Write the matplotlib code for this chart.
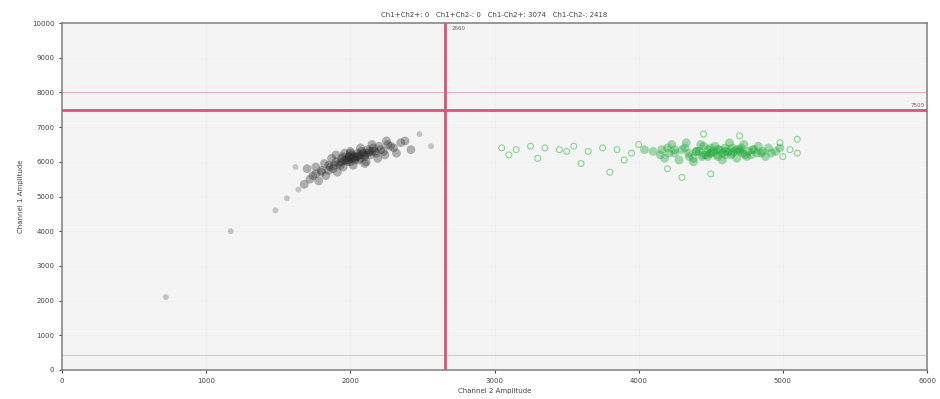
import matplotlib
matplotlib.use('Agg')
import matplotlib.pyplot as plt

# droplet amplitudes (x = channel 2, y = channel 1)
# double negative cluster (grey)
neg_ch2 = [1720, 1760, 1800, 1830, 1850, 1880, 1900, 1920, 1940, 1950, 1970, 1990,
           2000, 2010, 2030, 2050, 2060, 2080, 2100, 2120, 2140, 2160, 2180, 2200,
           2230, 2260, 2300, 2350, 1780, 1820, 1870, 1910, 1960, 2020, 2070, 2110,
           2150, 2190, 2240, 1700, 1900, 2000, 2100, 2250, 1980, 2040, 1930, 2090,
           1850, 2150, 2010, 1990, 2060, 1960, 2120, 1950, 2000, 2050, 2100, 2030,
           1980, 2070, 2000, 1940, 2080, 2130, 1890, 2020, 2170, 1860, 2210, 1800,
           2280, 1740, 2320, 2380, 2420, 1680, 1760]
neg_ch1 = [5500, 5650, 5750, 5600, 5900, 5800, 6000, 5950, 6100, 5850, 6050, 6150,
           6000, 6200, 6100, 6250, 6050, 6300, 6150, 6350, 6200, 6400, 6250, 6450,
           6300, 6500, 6400, 6550, 5450, 5950, 6100, 5700, 6250, 5900, 6400, 6000,
           6500, 6100, 6200, 5800, 6200, 6300, 5950, 6600, 6050, 6150, 5900, 6250,
           5750, 6300, 6100, 6150, 6200, 6050, 6250, 6150, 6100, 6150, 6200, 6050,
           6000, 6100, 6250, 6000, 6200, 6300, 5900, 6150, 6300, 5850, 6350, 5700,
           6450, 5600, 6250, 6600, 6350, 5350, 5850]
neg_out_ch2 = [1640, 1560, 1480, 1170, 720, 2480, 2560, 1620]
neg_out_ch1 = [5200, 4950, 4600, 4000, 2100, 6800, 6450, 5850]

# channel 2 positive cluster (green)
pos_ch2 = [4100, 4150, 4200, 4250, 4300, 4350, 4400, 4450, 4500, 4550, 4600, 4650,
           4700, 4750, 4800, 4850, 4900, 4950, 4180, 4280, 4380, 4480, 4580, 4680,
           4780, 4880, 4230, 4330, 4430, 4530, 4630, 4730, 4830, 4400, 4500, 4600,
           4700, 4550, 4650, 4450, 4350, 4420, 4480, 4520, 4580, 4620, 4680, 4720,
           4760, 4820, 4250, 4320, 4470, 4560, 4640, 4710, 4790, 4860, 4920, 4380,
           4500, 4600, 4540, 4660, 4440, 4740, 4160, 4210, 4980, 4040]
pos_ch1 = [6300, 6200, 6400, 6250, 6350, 6150, 6300, 6450, 6250, 6350, 6200, 6400,
           6300, 6150, 6350, 6250, 6400, 6300, 6100, 6050, 6000, 6150, 6050, 6100,
           6200, 6150, 6500, 6550, 6500, 6450, 6550, 6500, 6450, 6300, 6250, 6300,
           6350, 6150, 6250, 6200, 6250, 6300, 6350, 6300, 6250, 6300, 6350, 6250,
           6300, 6250, 6350, 6400, 6200, 6350, 6200, 6400, 6350, 6300, 6250, 6100,
           6400, 6400, 6200, 6300, 6150, 6200, 6350, 6250, 6400, 6350]
pos_out_ch2 = [3050, 3150, 3250, 3350, 3450, 3550, 3650, 3750, 3850, 3950, 3300, 3600,
               3900, 4000, 5000, 5050, 5100, 4980, 3800, 4200, 4500, 4300, 5100, 3100,
               3500, 4450, 4700]
pos_out_ch1 = [6400, 6350, 6450, 6400, 6350, 6450, 6300, 6400, 6350, 6250, 6100, 5950,
               6050, 6500, 6150, 6350, 6250, 6550, 5700, 5800, 5650, 5550, 6650, 6200,
               6300, 6800, 6750]

ch1_threshold = 7500
ch2_threshold = 2660

title = 'Ch1+Ch2+: 0   Ch1+Ch2-: 0   Ch1-Ch2+: 3074   Ch1-Ch2-: 2418'

fig = plt.figure(figsize=(9.4, 3.99), dpi=100)
ax = fig.add_axes([62 / 940, 29 / 399, 865 / 940, 347 / 399])
ax.set_facecolor('#f4f4f4')

ax.scatter(neg_out_ch2, neg_out_ch1, s=18, color='#555555', alpha=0.3, edgecolors='none', zorder=3)
ax.scatter(neg_ch2, neg_ch1, s=40, color='#2a2a2a', alpha=0.35, edgecolors='none', zorder=3)
ax.scatter(pos_out_ch2, pos_out_ch1, s=18, facecolors='none', edgecolors='#3fbf4f',
           linewidths=0.8, alpha=0.6, zorder=3)
ax.scatter(pos_ch2, pos_ch1, s=40, color='#1fa83a', alpha=0.4, edgecolors='none', zorder=3)

ax.axhline(ch1_threshold, color='#d4557c', lw=2, zorder=4)
ax.axvline(ch2_threshold, color='#d4557c', lw=2, zorder=4)
ax.axhline(8000, color='#ebb3c4', lw=0.8, zorder=2)
ax.axhline(430, color='#cccccc', lw=0.8, zorder=2)
ax.text(ch2_threshold + 40, 9900, str(ch2_threshold), fontsize=4, color='#666666', va='top')
ax.text(5980, ch1_threshold + 80, str(ch1_threshold), fontsize=4, color='#666666', ha='right')

ax.set_xlim(0, 6000)
ax.set_ylim(0, 10000)
ax.set_xticks(range(0, 6001, 1000))
ax.set_yticks(range(0, 10001, 1000))
ax.tick_params(labelsize=5, colors='#444444', length=2)
ax.grid(color='#efefef', lw=0.6)
ax.set_axisbelow(True)
for s in ax.spines.values():
    s.set_color('#888888')
    s.set_linewidth(1.2)

ax.set_title(title, fontsize=5, color='#444444', pad=4)
ax.set_xlabel('Channel 2 Amplitude', fontsize=5, color='#444444', labelpad=3)
ax.set_ylabel('Channel 1 Amplitude', fontsize=5, color='#444444', labelpad=6)

fig.savefig('out.png', dpi=100)
